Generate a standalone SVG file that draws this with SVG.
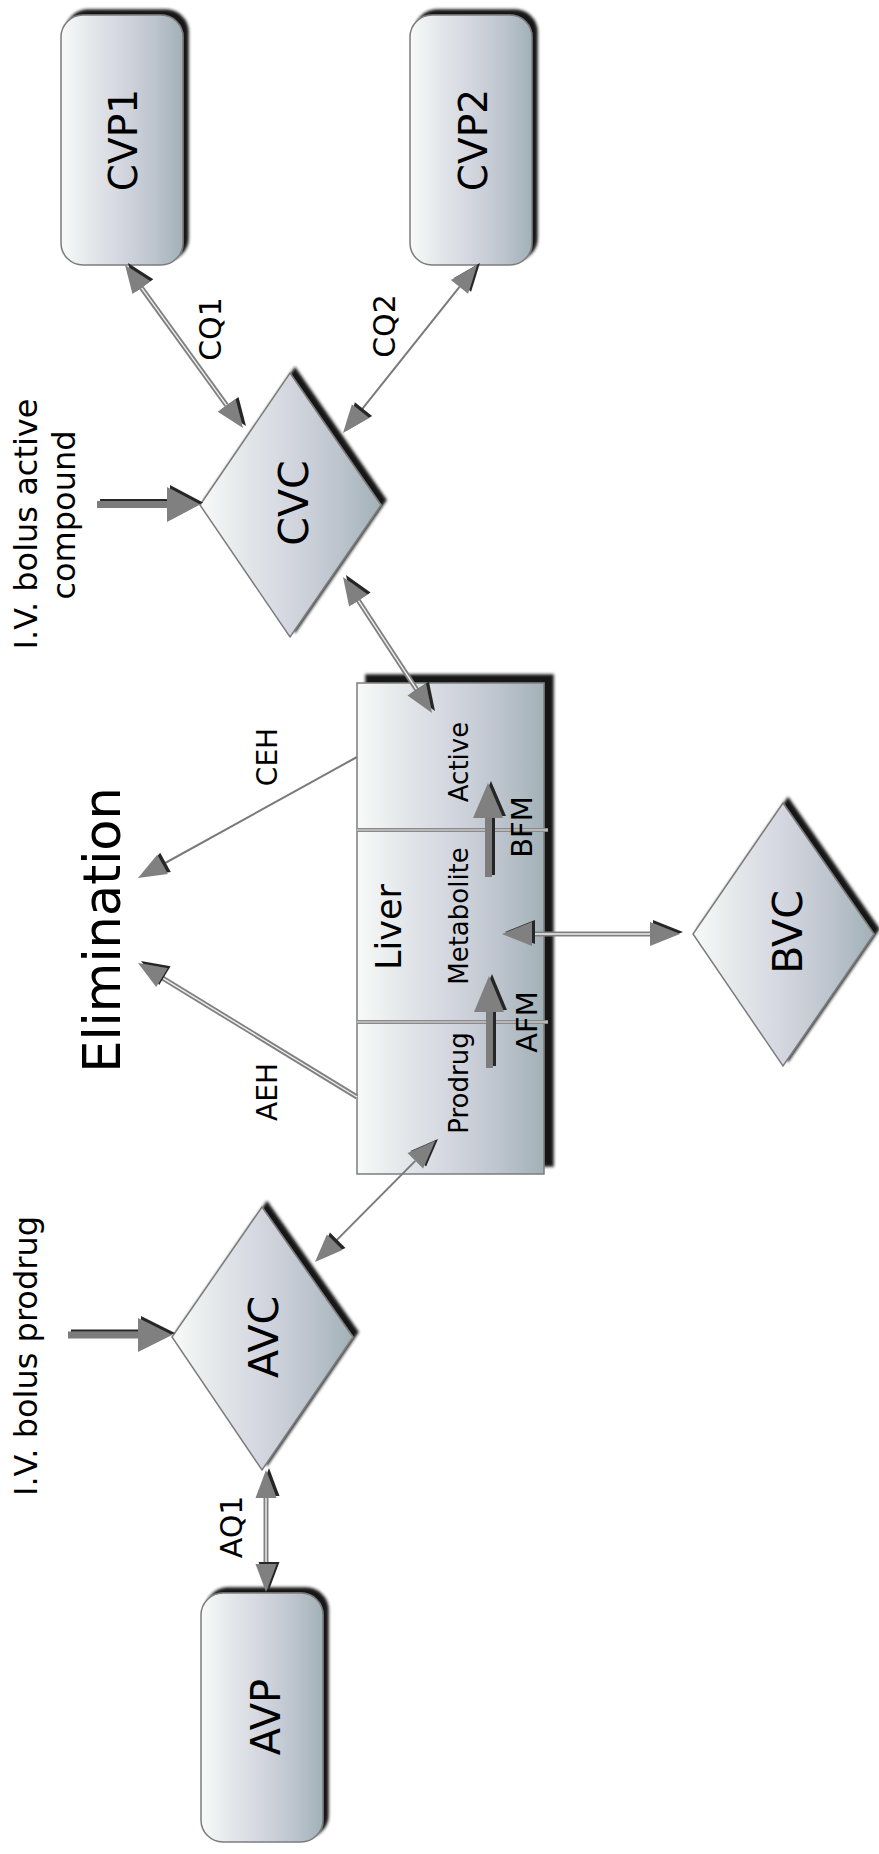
<svg xmlns="http://www.w3.org/2000/svg" width="879" height="1854" viewBox="0 0 879 1854">
<style>
.t{font-family:"DejaVu Sans","Liberation Sans",sans-serif;fill:#000;text-anchor:middle}
.node{fill:url(#g);stroke:#7c7c7c;stroke-width:1.5}
.sl{stroke:#7a7a7a;stroke-width:2;fill:none}
.dlo{stroke:#808080;stroke-width:5;fill:none}
.dli{stroke:#eeeeee;stroke-width:1.4;fill:none}
.ah{fill:#808080}
.shaft{fill:#7b7b7b}
.div{stroke:#8a8a8a;stroke-width:4}
.divi{stroke:#e6e6e6;stroke-width:1}
</style>
<defs>
<linearGradient id="g" x1="0" y1="0" x2="1" y2="0">
<stop offset="0" stop-color="#f7faf7"/>
<stop offset="0.25" stop-color="#e3e7ea"/>
<stop offset="0.5" stop-color="#d3d6df"/>
<stop offset="0.75" stop-color="#bec5ce"/>
<stop offset="1" stop-color="#a2b1b7"/>
</linearGradient>
<filter id="ns" x="-15%" y="-15%" width="130%" height="130%">
<feGaussianBlur in="SourceAlpha" stdDeviation="1.5"/>
<feOffset dx="5" dy="-5" result="o"/>
<feFlood flood-color="#151515"/>
<feComposite in2="o" operator="in" result="s"/>
<feMerge><feMergeNode in="s"/><feMergeNode in="SourceGraphic"/></feMerge>
</filter>
<filter id="ns2" x="-15%" y="-15%" width="130%" height="130%">
<feGaussianBlur in="SourceAlpha" stdDeviation="1.5"/>
<feOffset dx="9" dy="-8" result="o"/>
<feFlood flood-color="#151515"/>
<feComposite in2="o" operator="in" result="s"/>
<feMerge><feMergeNode in="s"/><feMergeNode in="SourceGraphic"/></feMerge>
</filter>
<filter id="as" x="-30%" y="-30%" width="160%" height="160%">
<feOffset in="SourceAlpha" dx="2.5" dy="-2.5" result="o"/>
<feFlood flood-color="#262626"/>
<feComposite in2="o" operator="in" result="s"/>
<feMerge><feMergeNode in="s"/><feMergeNode in="SourceGraphic"/></feMerge>
</filter>
</defs>

<rect width="879" height="1854" fill="#fff"/>

<!-- Nodes -->
<g id="CVP1">
<rect class="node" x="61" y="15" width="122" height="250" rx="22" filter="url(#ns)"/>
<text class="t" font-size="39" transform="translate(137,140) rotate(-90)">CVP1</text>
</g>
<g id="CVP2">
<rect class="node" x="410" y="15" width="122" height="250" rx="22" filter="url(#ns)"/>
<text class="t" font-size="39" transform="translate(487,140) rotate(-90)">CVP2</text>
</g>
<g id="CVC">
<polygon class="node" points="290,373 381,505 290,637 200,505" filter="url(#ns)"/>
<text class="t" font-size="41" transform="translate(308,503) rotate(-90)">CVC</text>
</g>
<g id="AVC">
<polygon class="node" points="262,1207 353,1337 262,1470 172,1337" filter="url(#ns)"/>
<text class="t" font-size="41" transform="translate(278,1337) rotate(-90)">AVC</text>
</g>
<g id="BVC">
<polygon class="node" points="783,803 874,934 783,1066 693,934" filter="url(#ns)"/>
<text class="t" font-size="41" transform="translate(802,932) rotate(-90)">BVC</text>
</g>
<g id="AVP">
<rect class="node" x="201" y="1593" width="122" height="249" rx="22" filter="url(#ns)"/>
<text class="t" font-size="40" transform="translate(280,1717) rotate(-90)">AVP</text>
</g>
<g id="Liver">
<rect class="node" x="357" y="683" width="187" height="491" filter="url(#ns2)"/>
<line class="div" x1="357" y1="830" x2="548" y2="830"/>
<line class="divi" x1="357" y1="830" x2="548" y2="830"/>
<line class="div" x1="357" y1="1022" x2="548" y2="1022"/>
<line class="divi" x1="357" y1="1022" x2="548" y2="1022"/>
<text class="t" font-size="35" transform="translate(401,927) rotate(-90)">Liver</text>
<text class="t" font-size="26" transform="translate(468,762) rotate(-90)">Active</text>
<text class="t" font-size="26" transform="translate(468,916) rotate(-90)">Metabolite</text>
<text class="t" font-size="26" transform="translate(468,1083) rotate(-90)">Prodrug</text>
</g>
<g id="Elimination">
<text class="t" font-size="51" transform="translate(120,930) rotate(-90)">Elimination</text>
</g>
<g id="bolus-active">
<text class="t" font-size="32" transform="translate(37,524) rotate(-90)">I.V. bolus active</text>
<text class="t" font-size="32" transform="translate(75,515) rotate(-90)">compound</text>
</g>
<g id="bolus-prodrug">
<text class="t" font-size="32" transform="translate(37,1356) rotate(-90)">I.V. bolus prodrug</text>
</g>

<!-- Connectors -->
<g id="connectors">
<!-- CQ1 double -->
<line class="dlo" x1="141.4" y1="287.7" x2="226.6" y2="405.3"/>
<line class="dli" x1="141.4" y1="287.7" x2="226.6" y2="405.3"/>
<!-- CQ2 single -->
<line class="sl" x1="360.5" y1="411.1" x2="459.5" y2="286.9"/>
<!-- CVC-Active double -->
<line class="dlo" x1="358.3" y1="600.4" x2="416.7" y2="689.6"/>
<line class="dli" x1="358.3" y1="600.4" x2="416.7" y2="689.6"/>
<!-- CEH single -->
<line class="sl" x1="357" y1="757" x2="162.5" y2="864.5"/>
<!-- AEH double -->
<line class="dlo" x1="357" y1="1097" x2="161.9" y2="977.6"/>
<line class="dli" x1="357" y1="1097" x2="161.9" y2="977.6"/>
<!-- AVC-Prodrug single -->
<line class="sl" x1="334.7" y1="1242.1" x2="415.3" y2="1160.9"/>
<!-- AQ1 double -->
<line class="dlo" x1="266" y1="1498" x2="266" y2="1564"/>
<line class="dli" x1="266" y1="1498" x2="266" y2="1564"/>
<!-- BVC-Metabolite double -->
<line class="dlo" x1="532" y1="934" x2="650" y2="934"/>
<line class="dli" x1="532" y1="934" x2="650" y2="934"/>

<g filter="url(#as)">
<!-- bolus arrows -->
<rect class="shaft" x="97" y="501" width="71" height="7"/>
<polygon class="ah" points="167,487 200,504.5 167,522"/>
<rect class="shaft" x="68" y="1331.5" width="72" height="7"/>
<polygon class="ah" points="138,1318 172,1335 138,1352"/>
<!-- BFM / AFM -->
<rect class="shaft" x="485" y="817" width="7" height="60"/>
<polygon class="ah" points="488,783 503,818 473,818"/>
<rect class="shaft" x="486" y="1011" width="7" height="57"/>
<polygon class="ah" points="489,976 504,1012 474,1012"/>
<!-- CQ1 heads -->
<polygon class="ah" points="243,428 217.7,411.8 235.5,398.9"/>
<polygon class="ah" points="125,265 150.3,281.2 132.5,294.1"/>
<!-- CQ2 heads -->
<polygon class="ah" points="477,265 468.1,293.8 450.9,280"/>
<polygon class="ah" points="343,433 369.1,418 351.9,404.3"/>
<!-- CVC-Active heads -->
<polygon class="ah" points="432,713 407.5,695.6 425.9,683.6"/>
<polygon class="ah" points="343,577 349.1,606.5 367.6,594.4"/>
<!-- CEH head -->
<polygon class="ah" points="138,878 157.2,854.8 167.8,874.1"/>
<!-- AEH head -->
<polygon class="ah" points="138,963 167.6,968.2 156.2,987"/>
<!-- AVC-Prodrug heads -->
<polygon class="ah" points="435,1141 423.1,1168.6 407.5,1153.1"/>
<polygon class="ah" points="315,1262 342.5,1249.9 326.9,1234.4"/>
<!-- AQ1 heads -->
<polygon class="ah" points="266,1470 276.5,1498 255.5,1498"/>
<polygon class="ah" points="266,1592 276.5,1564 255.5,1564"/>
<!-- BVC-Metabolite heads -->
<polygon class="ah" points="502,934 532,922 532,946"/>
<polygon class="ah" points="680,934 650,922 650,946"/>
</g>

<!-- connector labels -->
<text class="t" font-size="30" transform="translate(221,329) rotate(-90)">CQ1</text>
<text class="t" font-size="30" transform="translate(395,326) rotate(-90)">CQ2</text>
<text class="t" font-size="28" transform="translate(277,757) rotate(-90)">CEH</text>
<text class="t" font-size="28" transform="translate(277,1092) rotate(-90)">AEH</text>
<text class="t" font-size="30" transform="translate(242,1527) rotate(-90)">AQ1</text>
<text class="t" font-size="29" transform="translate(532,827) rotate(-90)">BFM</text>
<text class="t" font-size="29" transform="translate(537,1022) rotate(-90)">AFM</text>
</g>
</svg>
